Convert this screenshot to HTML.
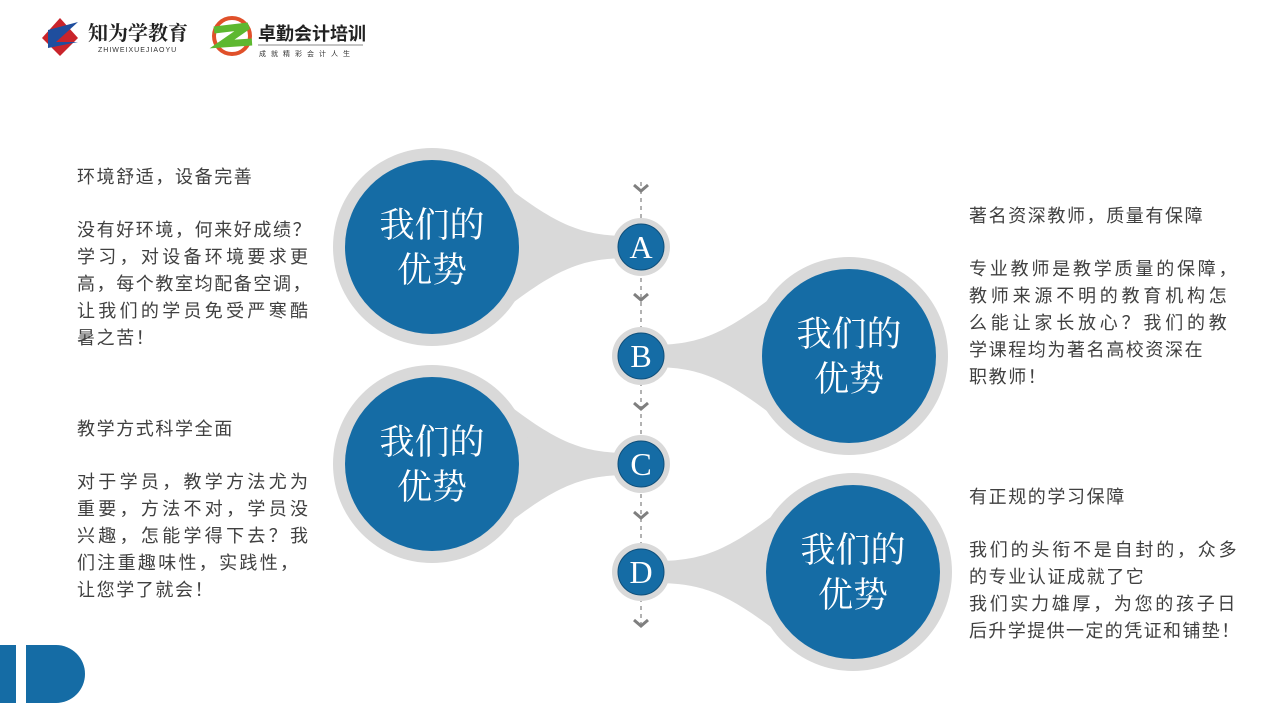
<!DOCTYPE html>
<html><head><meta charset="utf-8"><style>
body{margin:0;width:1281px;height:719px;background:#fff;position:relative;overflow:hidden;font-family:"Liberation Sans","Noto Sans CJK SC",sans-serif;}
.t{position:absolute;font-size:18px;color:#404040;white-space:nowrap;line-height:20px;letter-spacing:1.6px;}
</style></head><body>
<svg width="1281" height="719" style="position:absolute;left:0;top:0">
<polygon points="42,38 60,18 78,38 60,56" fill="#c9242b"/>
<polygon points="48,30 78,22 56,42 78,42 48,48" fill="#1f4e9e"/>
<text x="88" y="40" font-size="20" font-family="Noto Serif CJK SC,serif" font-weight="bold" fill="#222">知为学教育</text>
<text x="98" y="52" font-size="7" fill="#333" letter-spacing="1">ZHIWEIXUEJIAOYU</text>
<circle cx="232" cy="36" r="18" fill="none" stroke="#e0502a" stroke-width="4"/>
<path d="M214,30 L248,26 L222,44 L252,42" fill="none" stroke="#5db830" stroke-width="7"/>
<text x="258" y="40" font-size="18" font-weight="bold" fill="#222" font-family="Noto Sans CJK SC,sans-serif">卓勤会计培训</text>
<line x1="258" y1="45" x2="363" y2="45" stroke="#888" stroke-width="1"/>
<text x="259" y="56" font-size="7" fill="#333" letter-spacing="5">成就精彩会计人生</text>
<line x1="641" y1="182" x2="641" y2="628" stroke="#888" stroke-width="1.3" stroke-dasharray="4,4"/>
<g fill="none" stroke="#7f7f7f" stroke-width="3">
<path d="M634,185 L641,191 L648,185"/><path d="M634,294 L641,300 L648,294"/><path d="M634,403 L641,409 L648,403"/><path d="M634,512 L641,518 L648,512"/><path d="M634,620 L641,626 L648,620"/>
</g>
<g fill="#d9d9d9">
<path d="M505,185 C560,228 585,235 625,236 L625,258 C585,259 560,266 505,309 Z"/>
<path d="M505,402 C560,445 585,452 625,453 L625,475 C585,476 560,483 505,526 Z"/>
<path d="M776,294 C721,337 696,344 656,345 L656,367 C696,368 721,375 776,418 Z"/>
<path d="M780,510 C725,553 700,560 660,561 L660,583 C700,584 725,591 780,634 Z"/>
<circle cx="432" cy="247" r="99"/><circle cx="432" cy="464" r="99"/>
<circle cx="849" cy="356" r="99"/><circle cx="853" cy="572" r="99"/>
<circle cx="641" cy="247" r="29"/><circle cx="641" cy="356" r="29"/><circle cx="641" cy="464" r="29"/><circle cx="641" cy="572" r="29"/>
</g>
<g fill="#156ca5">
<circle cx="432" cy="247" r="87"/><circle cx="432" cy="464" r="87"/>
<circle cx="849" cy="356" r="87"/><circle cx="853" cy="572" r="87"/>
</g>
<g fill="#156ca5" stroke="#0f4f7a" stroke-width="1">
<circle cx="641" cy="247" r="23"/><circle cx="641" cy="356" r="23"/><circle cx="641" cy="464" r="23"/><circle cx="641" cy="572" r="23"/>
</g>
<g fill="#fff" font-family="Liberation Serif,Noto Serif CJK SC,serif" font-size="32" text-anchor="middle">
<text x="641" y="258">A</text><text x="641" y="367">B</text><text x="641" y="475">C</text><text x="641" y="583">D</text>
</g>
<g fill="#fff" font-family="Noto Serif CJK SC,serif" font-size="35" text-anchor="middle">
<text x="432" y="237">我们的</text><text x="432" y="282">优势</text>
<text x="432" y="454">我们的</text><text x="432" y="499">优势</text>
<text x="849" y="346">我们的</text><text x="849" y="391">优势</text>
<text x="853" y="562">我们的</text><text x="853" y="607">优势</text>
</g>
<rect x="0" y="645" width="16" height="58" fill="#156ca5"/>
<path d="M26,645 L56,645 A29,29 0 0 1 56,703 L26,703 Z" fill="#156ca5"/>
</svg>
<div class="t" style="left:77px;top:167px">环境舒适，设备完善</div>
<div class="t" style="left:77px;top:220px">没有好环境，何来好成绩？</div>
<div class="t" style="left:77px;top:247px;letter-spacing:3.3px">学习，对设备环境要求更</div>
<div class="t" style="left:77px;top:274px">高，每个教室均配备空调，</div>
<div class="t" style="left:77px;top:301px;letter-spacing:3.3px">让我们的学员免受严寒酷</div>
<div class="t" style="left:77px;top:328px">暑之苦！</div>

<div class="t" style="left:77px;top:419px">教学方式科学全面</div>
<div class="t" style="left:77px;top:472px;letter-spacing:3.3px">对于学员，教学方法尤为</div>
<div class="t" style="left:77px;top:499px;letter-spacing:3.3px">重要，方法不对，学员没</div>
<div class="t" style="left:77px;top:526px;letter-spacing:3.3px">兴趣，怎能学得下去？我</div>
<div class="t" style="left:77px;top:553px;letter-spacing:2.3px">们注重趣味性，实践性，</div>
<div class="t" style="left:77px;top:580px">让您学了就会！</div>

<div class="t" style="left:969px;top:206px">著名资深教师，质量有保障</div>
<div class="t" style="left:969px;top:259px;letter-spacing:2.8px">专业教师是教学质量的保障，</div>
<div class="t" style="left:969px;top:286px;letter-spacing:3.8px">教师来源不明的教育机构怎</div>
<div class="t" style="left:969px;top:313px;letter-spacing:3.8px">么能让家长放心？我们的教</div>
<div class="t" style="left:969px;top:340px">学课程均为著名高校资深在</div>
<div class="t" style="left:969px;top:367px">职教师！</div>

<div class="t" style="left:969px;top:487px">有正规的学习保障</div>
<div class="t" style="left:969px;top:540px;letter-spacing:2.8px">我们的头衔不是自封的，众多</div>
<div class="t" style="left:969px;top:567px">的专业认证成就了它</div>
<div class="t" style="left:969px;top:594px;letter-spacing:2.7px">我们实力雄厚，为您的孩子日</div>
<div class="t" style="left:969px;top:621px;letter-spacing:1.4px">后升学提供一定的凭证和铺垫！</div>
</body></html>
